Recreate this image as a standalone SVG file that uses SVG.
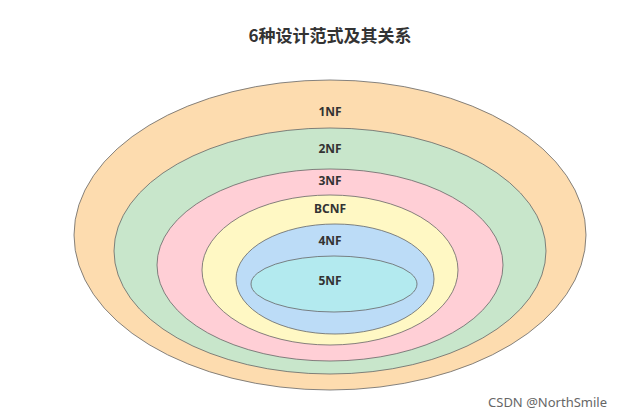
<svg xmlns="http://www.w3.org/2000/svg" width="621" height="418" viewBox="0 0 621 418">
<style>
.e{stroke:#666;stroke-width:0.8}
.t{font-family:"Noto Sans","Liberation Sans",sans-serif;font-size:12px;font-weight:bold;fill:#333;text-anchor:middle}
</style>
<rect width="621" height="418" fill="#fff"/>
<text x="330" y="42" class="t" style="font-size:17px;font-family:'Noto Sans CJK SC',sans-serif">6种设计范式及其关系</text>
<g id="n1"><ellipse class="e" cx="330" cy="235" rx="256" ry="155" fill="#fddcaf"/><text class="t" x="330" y="116">1NF</text></g>
<g id="n2"><ellipse class="e" cx="330" cy="251" rx="216" ry="123" fill="#c8e6cb"/><text class="t" x="330" y="153">2NF</text></g>
<g id="n3"><ellipse class="e" cx="330" cy="265" rx="173" ry="96" fill="#ffcfd6"/><text class="t" x="330" y="185">3NF</text></g>
<g id="n4"><ellipse class="e" cx="330" cy="270" rx="128" ry="75" fill="#fff8c4"/><text class="t" x="330" y="213">BCNF</text></g>
<g id="n5"><ellipse class="e" cx="335" cy="279" rx="99" ry="55" fill="#bcdcf7"/><text class="t" x="330" y="245">4NF</text></g>
<g id="n6"><ellipse class="e" cx="334" cy="284" rx="83" ry="28" fill="#b3eaef"/><text class="t" x="330" y="285">5NF</text></g>
<g id="connectors"/>
<text x="607" y="407" style="font-family:'Noto Sans',sans-serif;font-size:13px;fill:#666;text-anchor:end">CSDN @NorthSmile</text>
</svg>
